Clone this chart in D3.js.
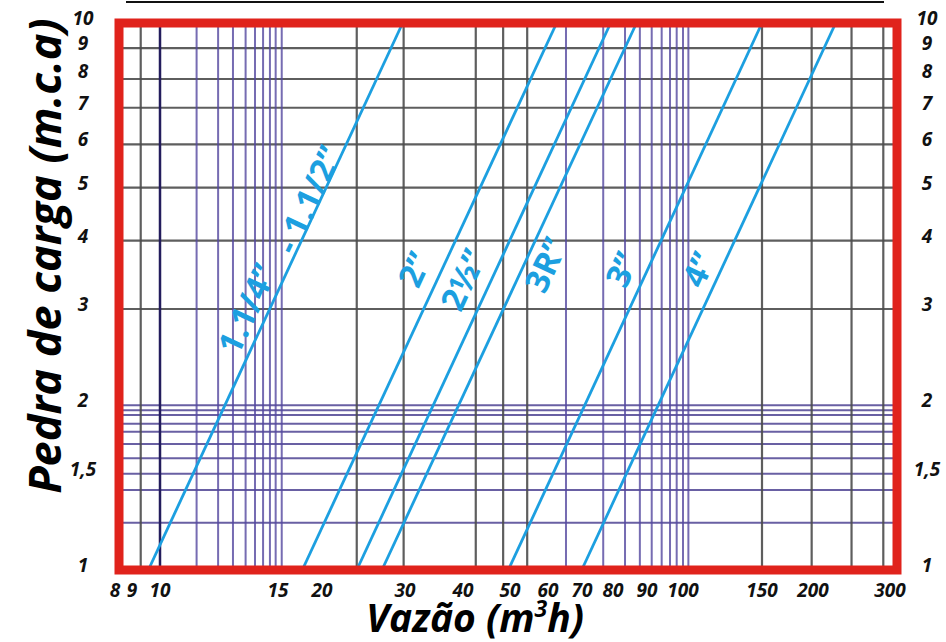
<!DOCTYPE html>
<html><head><meta charset="utf-8">
<script src="https://cdn.jsdelivr.net/npm/d3@7"></script>
<style>html,body{margin:0;padding:0;background:#fff;} svg{display:block;}</style>
</head><body><svg id="chart" width="946" height="642"></svg>
<script>
// ---------------- data ----------------
const xTickValues = [8, 9, 10, 15, 20, 30, 40, 50, 60, 70, 80, 90, 100, 150, 200, 300];
const xTickLabels = ["8", "9", "10", "15", "20", "30", "40", "50", "60", "70", "80", "90", "100", "150", "200", "300"];
const yTickValues = [1, 1.5, 2, 3, 4, 5, 6, 7, 8, 9, 10];
const yTickLabels = ["1", "1,5", "2", "3", "4", "5", "6", "7", "8", "9", "10"];

const xGridBlack = [9.3, 23.7, 29.8, 42.5, 48.4, 54.3, 150, 198.5, 245, 289.6];
const xGridDark = [10];
const xGridPurple = [11.34, 12.21, 12.85, 13.42, 13.86, 14.25, 14.59, 14.88, 15.37,
                     65.1, 76.7, 83.4, 87.8, 91.25, 93.95, 96.27, 98.17, 100, 102.8];
const yGridBlack = [3, 4, 5, 6, 7, 7.9, 9];
const yGridPurple = [1.22, 1.4, 1.5, 1.6, 1.7, 1.79, 1.85, 1.92, 1.96, 2];

const seriesNames = ["1.1/4” - 1.1/2”", "2”", "2½”", "3R”", "3”", "4”"];
const flowAtHead1 = [9.57, 17.58, 23.7, 26.8, 49.6, 69.9];     // m³/h at 1 m.c.a
const flowAtHead10 = [29.66, 62.4, 79.2, 86.8, 150, 225.4];    // m³/h at 10 m.c.a
const headMin = 1, headMax = 10;

const labelTexts = ["1.1/4”", "- 1.1/2”", "2”", "2½”", "3R”", "3”", "4”"];
const labelFlow = [13.5, 18.3, 31.5, 40.1, 59.4, 82.6, 108.5];
const labelHead = [3.0, 4.75, 3.54, 3.39, 3.61, 3.54, 3.54];

const xTitle = "Vazão (m";
const xTitleSup = "3";
const xTitleEnd = "h)";
const yTitle = "Pedra de carga (m.c.a)";

// ---------------- layout ----------------
const frame = {left: 119, right: 897, top: 23, bottom: 570};
const xAnchorPx = [115, 132, 160, 278, 322, 405, 463, 510, 548, 582, 613, 647, 683, 762, 813, 890];

const svg = d3.select("#chart");
const x = d3.scaleLog().domain(xTickValues).range(xAnchorPx);
const y = d3.scaleLog().domain([headMin, headMax]).range([frame.bottom, frame.top]);

const BLUE = "#1c9fe0", RED = "#e0231c";
const FONT = "'Open Sans', sans-serif";

svg.append("rect").attr("width", 946).attr("height", 642).attr("fill", "#fff");

// top separator line
svg.append("line").attr("x1", 126).attr("x2", 884).attr("y1", 2).attr("y2", 2)
  .attr("stroke", "#111").attr("stroke-width", 2);

const grid = svg.append("g");
// horizontal grid
grid.selectAll("line.hb").data(yGridBlack).join("line")
  .attr("x1", frame.left).attr("x2", frame.right)
  .attr("y1", d => y(d)).attr("y2", d => y(d))
  .attr("stroke", "#4d4d4d").attr("stroke-width", 2.2).attr("opacity", 0.9);
grid.selectAll("line.hp").data(yGridPurple).join("line")
  .attr("x1", frame.left).attr("x2", frame.right)
  .attr("y1", d => y(d)).attr("y2", d => y(d))
  .attr("stroke", "#4f4594").attr("stroke-width", 2).attr("opacity", 0.85);
// vertical grid
grid.selectAll("line.vb").data(xGridBlack).join("line")
  .attr("y1", frame.top).attr("y2", frame.bottom)
  .attr("x1", d => x(d)).attr("x2", d => x(d))
  .attr("stroke", "#4d4d4d").attr("stroke-width", 2.2).attr("opacity", 0.9);
grid.selectAll("line.vp").data(xGridPurple).join("line")
  .attr("y1", frame.top).attr("y2", frame.bottom)
  .attr("x1", d => x(d)).attr("x2", d => x(d))
  .attr("stroke", "#5448a0").attr("stroke-width", 2).attr("opacity", 0.8);
grid.selectAll("line.vd").data(xGridDark).join("line")
  .attr("y1", frame.top).attr("y2", frame.bottom)
  .attr("x1", d => x(d)).attr("x2", d => x(d))
  .attr("stroke", "#231c5c").attr("stroke-width", 2.5);

// pressure-loss lines
const line = d3.line().x(d => x(d[0])).y(d => y(d[1]));
svg.append("g").selectAll("path").data(seriesNames).join("path")
  .attr("d", (d, i) => line([[flowAtHead1[i], headMin], [flowAtHead10[i], headMax]]))
  .attr("fill", "none").attr("stroke", BLUE).attr("stroke-width", 2.8);

// line labels
const ang = Math.atan2(y(headMax) - y(headMin), x(flowAtHead10[0]) - x(flowAtHead1[0])) * 180 / Math.PI;
svg.append("g").selectAll("text").data(labelTexts).join("text")
  .attr("transform", (d, i) => `translate(${x(labelFlow[i])},${y(labelHead[i])}) rotate(${ang})`)
  .attr("text-anchor", "middle").attr("dy", "0.35em")
  .attr("font-family", FONT).attr("font-weight", 700)
  .attr("font-size", 33).attr("fill", BLUE)
  .text(d => d);

// frame
svg.append("rect")
  .attr("x", frame.left).attr("y", frame.top)
  .attr("width", frame.right - frame.left).attr("height", frame.bottom - frame.top)
  .attr("fill", "none").attr("stroke", RED).attr("stroke-width", 9);

// tick labels
const tickSize = 19;
svg.append("g").selectAll("text").data(xTickValues).join("text")
  .attr("x", d => x(d)).attr("y", 597)
  .attr("text-anchor", "middle")
  .attr("font-family", FONT).attr("font-weight", 700).attr("font-style", "italic")
  .attr("font-size", tickSize).attr("fill", "#111")
  .text((d, i) => xTickLabels[i]);

[83, 927].forEach(px => {
  svg.append("g").selectAll("text").data(yTickValues).join("text")
    .attr("x", px).attr("y", d => y(d)).attr("dy", "0.1em")
    .attr("text-anchor", "middle")
    .attr("font-family", FONT).attr("font-weight", 700).attr("font-style", "italic")
    .attr("font-size", tickSize).attr("fill", "#111")
    .text((d, i) => yTickLabels[i]);
});

// axis titles
const xt = svg.append("text")
  .attr("x", 475).attr("y", 632).attr("text-anchor", "middle")
  .attr("font-family", FONT).attr("font-weight", 700).attr("font-style", "italic")
  .attr("font-size", 39).attr("fill", "#000");
xt.append("tspan").text(xTitle);
xt.append("tspan").attr("dy", -15).attr("font-size", 23).text(xTitleSup);
xt.append("tspan").attr("dy", 15).text(xTitleEnd);

svg.append("text")
  .attr("transform", "translate(61,256) rotate(-90)")
  .attr("text-anchor", "middle")
  .attr("font-family", FONT).attr("font-weight", 700).attr("font-style", "italic")
  .attr("font-size", 45).attr("fill", "#000")
  .text(yTitle);
</script></body></html>
